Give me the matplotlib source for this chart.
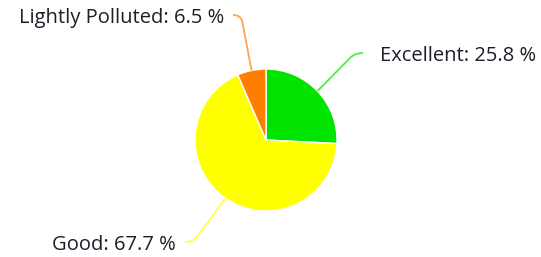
import numpy as np
import matplotlib
matplotlib.use("Agg")
import matplotlib.pyplot as plt
from matplotlib.path import Path
from matplotlib.patches import PathPatch

# data
labels = ["Excellent", "Good", "Lightly Polluted"]
shares = [25.8, 67.7, 6.5]
colors = ["#00e400", "#ffff00", "#ff7e00"]

# label layout (pixel coords, y up)
text_pos = [(380, 201), (176, 12), (224, 239)]
text_ha = ["left", "right", "right"]

W, H = 541, 257
cx, cy, R = 266, 117, 71

fig = plt.figure(figsize=(W / 100, H / 100), dpi=100)
ax = fig.add_axes([0, 0, 1, 1])

wedges, _ = ax.pie(shares, colors=colors, startangle=90, counterclock=False,
                   center=(cx, cy), radius=R,
                   wedgeprops=dict(edgecolor="white", linewidth=1))
ax.set_xlim(0, W)
ax.set_ylim(0, H)
ax.set_aspect("equal")
ax.axis("off")

for w, lab, val, col, (tx, ty), ha in zip(wedges, labels, shares, colors, text_pos, text_ha):
    mid = np.deg2rad((w.theta1 + w.theta2) / 2)
    sx, sy = cx + R * np.cos(mid), cy + R * np.sin(mid)
    gap = 17 if ha == "left" else -9
    ex, ey = tx - gap, ty + 3
    kx, ky = ex - np.sign(gap) * 8, ey
    # straight part then a small curve into the label
    verts = [(sx, sy), (kx - (kx - sx) * 0.12, ky - (ky - sy) * 0.12), (kx, ky), (ex, ey)]
    codes = [Path.MOVETO, Path.LINETO, Path.CURVE3, Path.CURVE3]
    ax.add_patch(PathPatch(Path(verts, codes), fill=False, edgecolor=col,
                           lw=1.3, alpha=0.7))
    ax.text(tx, ty, f"{lab}: {val} %", ha=ha, va="center", fontsize=14.5,
            family="Open Sans", color="#1e1e2a")

fig.savefig("out.png", dpi=100)
